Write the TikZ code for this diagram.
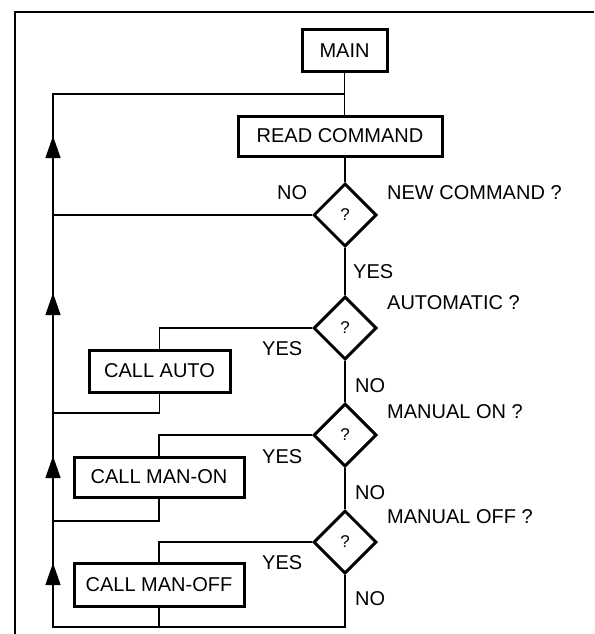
\documentclass[tikz,border=0pt]{standalone}
\usepackage{fontspec}
\setmainfont{Liberation Sans}
\usetikzlibrary{shapes.geometric,arrows.meta}
\begin{document}
\begin{tikzpicture}[x=1pt,y=-1pt,
  box/.style={draw,line width=3pt,rectangle,inner sep=0pt,font=\fontsize{20}{24}\selectfont},
  dec/.style={draw,diamond,line width=3pt,minimum width=63pt,minimum height=63pt,inner sep=0pt,font=\fontsize{17}{20}\selectfont},
  lbl/.style={anchor=west,inner sep=0pt,font=\fontsize{20}{24}\selectfont},
  wire/.style={line width=1.2pt},
  framel/.style={line width=2.2pt},
  uparrow/.style={-{Triangle[length=22pt,width=15pt]},line width=1.2pt}
]
\useasboundingbox (0,0) rectangle (594,634);
\fill[white] (0,0) rectangle (594,634);
% outer frame
\draw[framel] (594,12) -| (15,634);

% nodes
\node[box,minimum width=85pt,minimum height=41pt] (main) at (344.5,50.5) {MAIN};
\node[box,minimum width=204pt,minimum height=40pt] (read) at (340,136) {READ COMMAND};
\node[dec] (d1) at (345,215) {?};
\node[dec] (d2) at (345,328) {?};
\node[dec] (d3) at (345,435) {?};
\node[dec] (d4) at (345,542) {?};
\node[box,minimum width=141pt,minimum height=42pt] (auto) at (159.5,371) {CALL AUTO};
\node[box,minimum width=170pt,minimum height=40pt] (manon) at (159,477) {CALL MAN-ON};
\node[box,minimum width=170pt,minimum height=43pt] (manoff) at (159,584.5) {CALL MAN-OFF};

% coordinates of the return loop
\coordinate (lt) at (53,94);
\coordinate (lb) at (53,627);
\coordinate (r1) at (53,413);
\coordinate (r2) at (53,521);
\coordinate (a1s) at (53,158); \coordinate (a1t) at (53,136);
\coordinate (a2s) at (53,315); \coordinate (a2t) at (53,293);
\coordinate (a3s) at (53,478); \coordinate (a3t) at (53,456);
\coordinate (a4s) at (53,585); \coordinate (a4t) at (53,563);

% connectors
\draw[wire] (main.south) -- (main.south |- read.north);
\draw[wire] (read.south -| d1.north) -- (d1.north);
\draw[wire] (d1.west) -- (d1.west -| lt);
\draw[wire] (d1.south) -- (d2.north);
\draw[wire] (d2.west) -| (auto.north);
\draw[wire] (auto.south) |- (r1);
\draw[wire] (d2.south) -- (d3.north);
\draw[wire] (d3.west) -| (manon.north);
\draw[wire] (manon.south) |- (r2);
\draw[wire] (d3.south) -- (d4.north);
\draw[wire] (d4.west) -| (manoff.north);
\draw[wire] (manoff.south) -- (manoff.south |- lb);
\draw[wire] (d4.south) |- (lb) -- (lt) -- (lt -| main.south);

% arrowheads on the return line
\draw[uparrow] (a1s) -- (a1t);
\draw[uparrow] (a2s) -- (a2t);
\draw[uparrow] (a3s) -- (a3t);
\draw[uparrow] (a4s) -- (a4t);

% labels
\node[lbl] (no1) at (277,193) {NO};
\node[lbl] (q1) at (387,193) {NEW COMMAND ?};
\node[lbl] (yes1) at (353,272) {YES};
\node[lbl] (q2) at (387,303) {AUTOMATIC ?};
\node[lbl] (yes2) at (262,349) {YES};
\node[lbl] (no2) at (355,386) {NO};
\node[lbl] (q3) at (387,412) {MANUAL ON ?};
\node[lbl] (yes3) at (262,457) {YES};
\node[lbl] (no3) at (355,493) {NO};
\node[lbl] (q4) at (387,517) {MANUAL OFF ?};
\node[lbl] (yes4) at (262,563) {YES};
\node[lbl] (no4) at (355,599) {NO};
\end{tikzpicture}
\end{document}
